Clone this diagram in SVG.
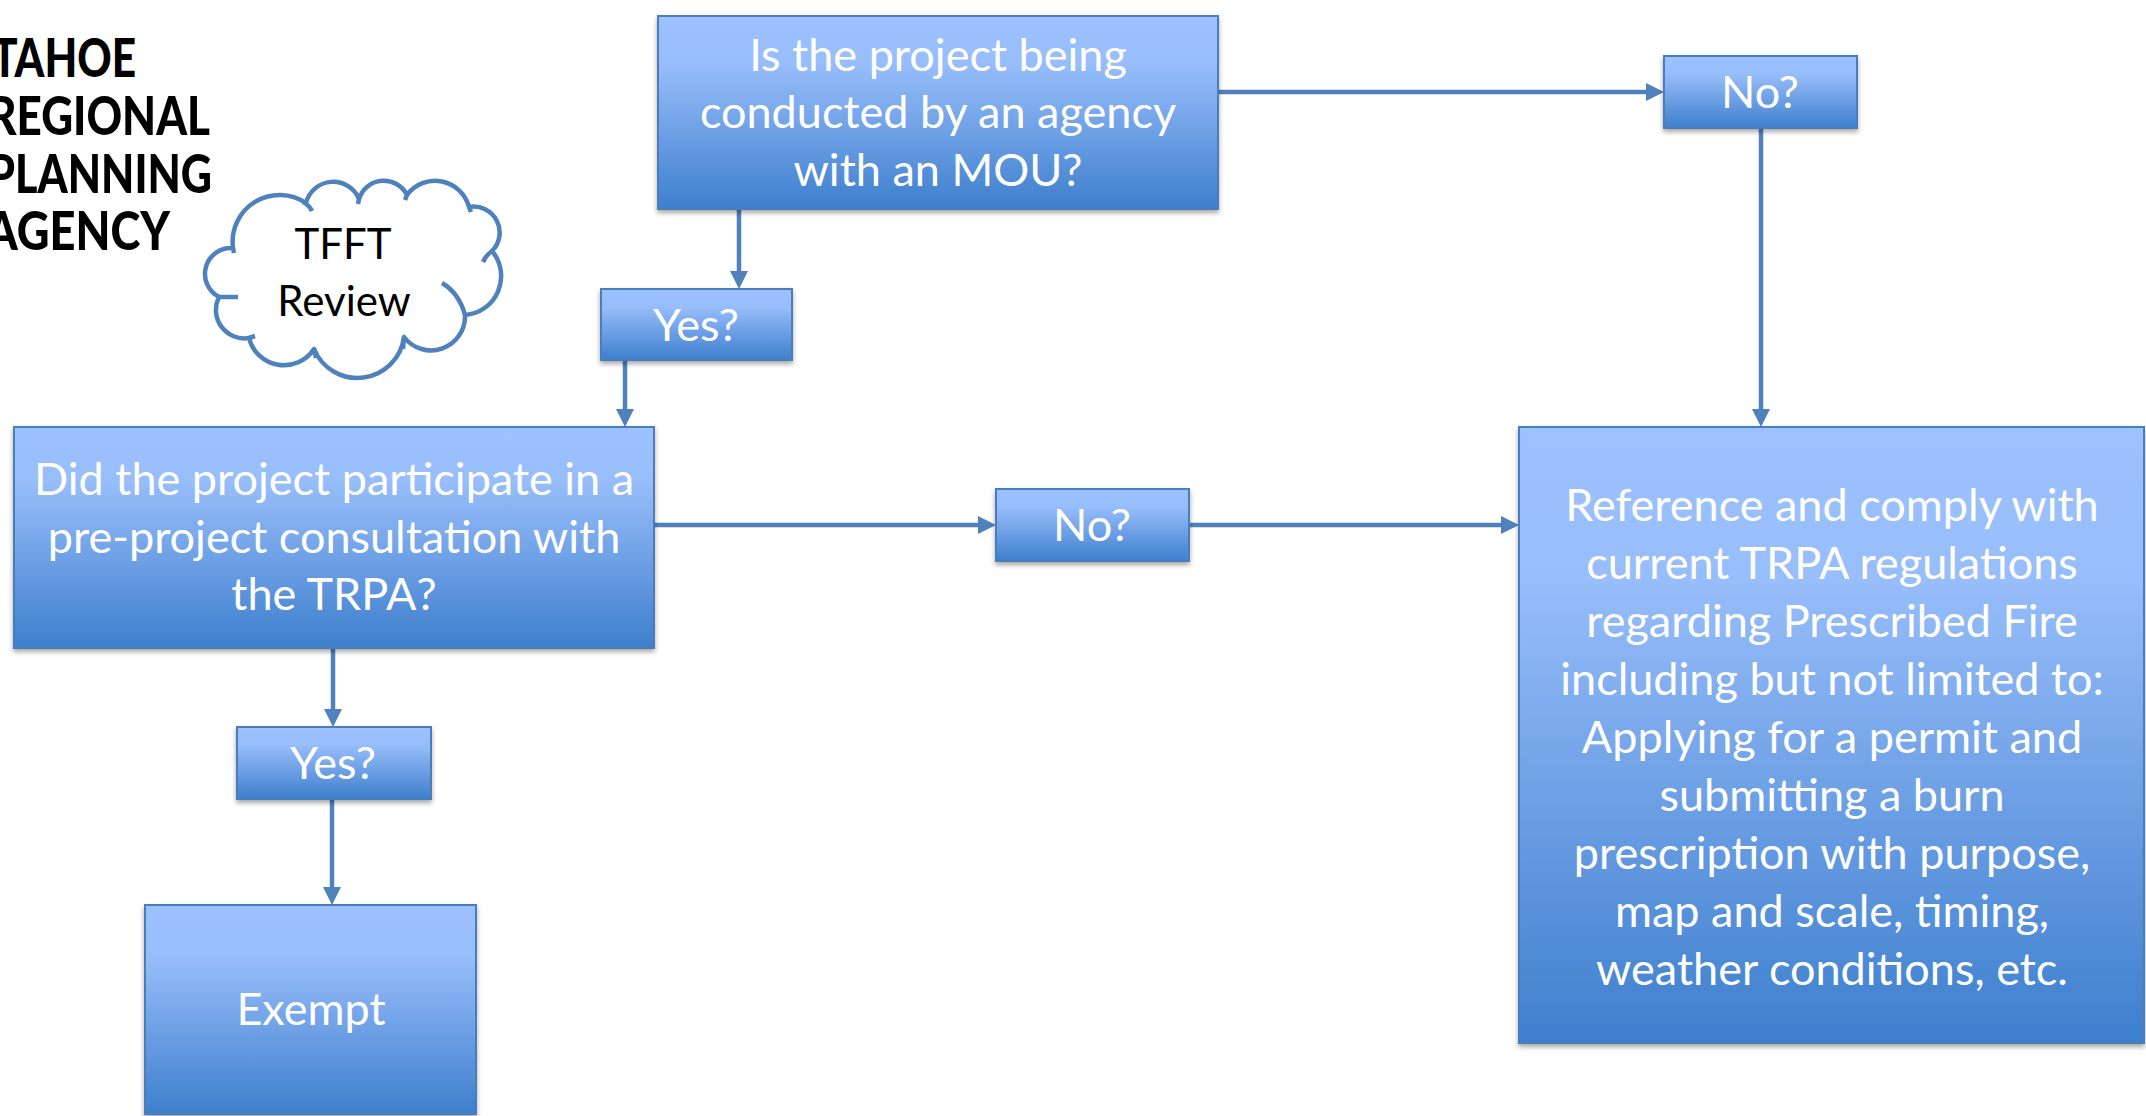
<svg xmlns="http://www.w3.org/2000/svg" width="2146" height="1116" viewBox="0 0 2146 1116">
<defs>
<linearGradient id="g" x1="0" y1="0" x2="0" y2="1">
<stop offset="0" stop-color="#9CC1FE"/>
<stop offset="0.25" stop-color="#97BDFA"/>
<stop offset="1" stop-color="#3E7FCD"/>
</linearGradient>
<filter id="sh" x="-5%" y="-5%" width="110%" height="115%">
<feDropShadow dx="0" dy="3" stdDeviation="2.5" flood-color="#000" flood-opacity="0.35"/>
</filter>
<marker id="ah" markerUnits="userSpaceOnUse" markerWidth="18" markerHeight="18" refX="7" refY="9" orient="auto">
<path d="M0,0 L18,9 L0,18 z" fill="#4F81BD"/>
</marker>
<style>
.box{fill:url(#g);stroke:#4A7EBB;stroke-width:2;filter:url(#sh)}
.t{fill:#fff;font-family:Lato,"Open Sans",sans-serif;font-size:45px;text-anchor:middle}
.c{fill:none;stroke:#4F81BD;stroke-width:4.5;marker-end:url(#ah)}
.logo{fill:#000;font-family:Lato,"DejaVu Sans",sans-serif;font-weight:900;font-size:54px}
.cloud{fill:#fff;stroke:#4F81BD;stroke-width:4.5;stroke-linejoin:round}
.stub{fill:none;stroke:#4F81BD;stroke-width:4.5}
</style>
</defs>

<g id="logo">
<text class="logo" x="-8" y="77" textLength="144" lengthAdjust="spacingAndGlyphs">TAHOE</text>
<text class="logo" x="-12" y="135" textLength="222" lengthAdjust="spacingAndGlyphs">REGIONAL</text>
<text class="logo" x="-12" y="193" textLength="224" lengthAdjust="spacingAndGlyphs">PLANNING</text>
<text class="logo" x="-14" y="250" textLength="184" lengthAdjust="spacingAndGlyphs">AGENCY</text>
</g>

<g id="cloud">
<path class="cloud" d="M233,248 A47,47 0 0 1 306,203 A28,28 0 0 1 359,199 A26,26 0 0 1 407,195 A35,35 0 0 1 469,207 A26,26 0 0 1 492,251 A39,39 0 0 1 465,315 A34,34 0 0 1 404,337 A47,47 0 0 1 314,349 A36,36 0 0 1 249,338 A28.5,28.5 0 0 1 219,297 A26,26 0 0 1 233,248 Z"/>
<path class="stub" d="M303,202 Q309,205 312,211 M359,199 L358,204 M407,195 L405,200 M469,207 L471,212 M492,251 Q486,255 483,262 M442,283 Q459,293 465,315 M404,337 L403,349 M314,349 L316,358 M249,338 L255,336 M219,297 L238,297 M233,248 L234,253"/>
<text x="343" y="259" font-family="Lato,'Open Sans',sans-serif" font-size="42" text-anchor="middle" fill="#000">TFFT</text>
<text x="344" y="316" font-family="Lato,'Open Sans',sans-serif" font-size="42" text-anchor="middle" fill="#000">Review</text>
</g>

<g id="connectors">
<path class="c" d="M1218,92 L1653,92"/>
<path class="c" d="M1761,128 L1761,416"/>
<path class="c" d="M739,209 L739,278"/>
<path class="c" d="M625,360 L625,416"/>
<path class="c" d="M654,525 L985,525"/>
<path class="c" d="M1189,525 L1508,525"/>
<path class="c" d="M333,648 L333,716"/>
<path class="c" d="M332,799 L332,894"/>
</g>

<g id="q1">
<rect class="box" x="658" y="16" width="560" height="193"/>
<text class="t" x="938" y="71">Is the project being</text>
<text class="t" x="938" y="128">conducted by an agency</text>
<text class="t" x="938" y="186">with an MOU?</text>
</g>

<g id="no1">
<rect class="box" x="1664" y="56" width="193" height="72"/>
<text class="t" x="1760" y="108">No?</text>
</g>

<g id="yes1">
<rect class="box" x="601" y="289" width="191" height="71"/>
<text class="t" x="696" y="341">Yes?</text>
</g>

<g id="q2">
<rect class="box" x="14" y="427" width="640" height="221"/>
<text class="t" x="334" y="495">Did the project participate in a</text>
<text class="t" x="334" y="553">pre-project consultation with</text>
<text class="t" x="334" y="610">the TRPA?</text>
</g>

<g id="no2">
<rect class="box" x="996" y="489" width="193" height="72"/>
<text class="t" x="1092" y="541">No?</text>
</g>

<g id="yes2">
<rect class="box" x="237" y="727" width="194" height="72"/>
<text class="t" x="333" y="779">Yes?</text>
</g>

<g id="exempt">
<rect class="box" x="145" y="905" width="331" height="209"/>
<text class="t" x="311" y="1025">Exempt</text>
</g>

<g id="comply">
<rect class="box" x="1519" y="427" width="625" height="616"/>
<text class="t" x="1832" y="521">Reference and comply with</text>
<text class="t" x="1832" y="579">current TRPA regulations</text>
<text class="t" x="1832" y="637">regarding Prescribed Fire</text>
<text class="t" x="1832" y="695">including but not limited to:</text>
<text class="t" x="1832" y="753">Applying for a permit and</text>
<text class="t" x="1832" y="811">submitting a burn</text>
<text class="t" x="1832" y="869">prescription with purpose,</text>
<text class="t" x="1832" y="927">map and scale, timing,</text>
<text class="t" x="1832" y="985">weather conditions, etc.</text>
</g>
</svg>
